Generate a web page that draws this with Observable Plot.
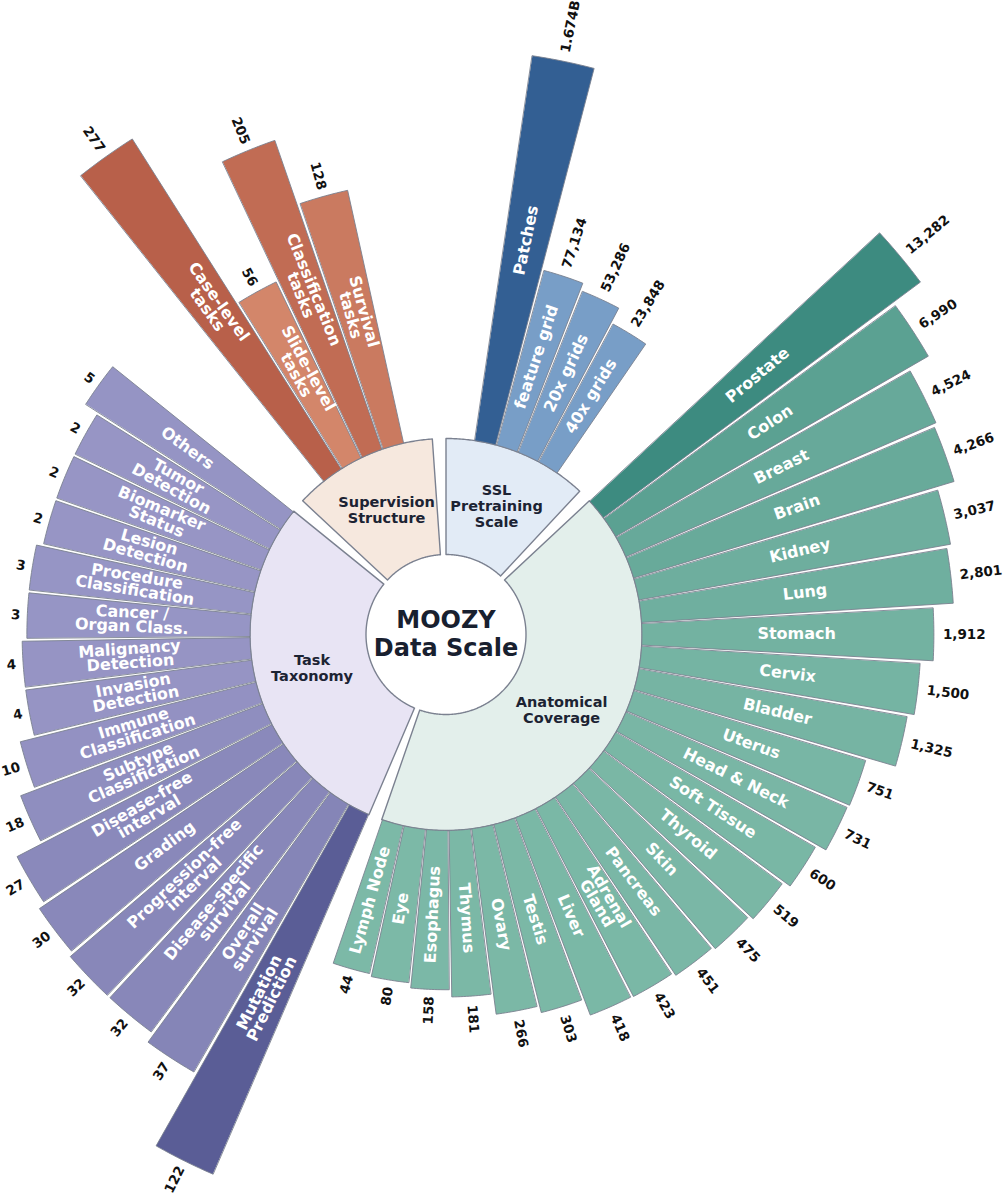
<!DOCTYPE html>
<html>
<head>
<meta charset="utf-8">
<script src="https://cdn.jsdelivr.net/npm/d3@7"></script>
<script src="https://cdn.jsdelivr.net/npm/@observablehq/plot@0.6"></script>
<style>
  html, body { margin: 0; padding: 0; background: #fff; overflow: hidden; }
  #chart svg { display: block; }
</style>
</head>
<body>
<div id="chart"></div>
<script>
// ---------------- DATA ----------------
const groupNames = ["SSL\nPretraining\nScale", "Anatomical\nCoverage", "Task\nTaxonomy", "Supervision\nStructure"];

const sslLabels = ["Patches", "feature grid", "20x grids", "40x grids"];
const sslValues = [1674000000, 77134, 53286, 23848];

const anatLabels = ["Prostate", "Colon", "Breast", "Brain", "Kidney", "Lung", "Stomach", "Cervix",
  "Bladder", "Uterus", "Head & Neck", "Soft Tissue", "Thyroid", "Skin", "Pancreas", "Adrenal\nGland",
  "Liver", "Testis", "Ovary", "Thymus", "Esophagus", "Eye", "Lymph Node"];
const anatValues = [13282, 6990, 4524, 4266, 3037, 2801, 1912, 1500, 1325, 751, 731, 600, 519, 475,
  451, 423, 418, 303, 266, 181, 158, 80, 44];

const taskLabels = ["Mutation\nPrediction", "Overall\nsurvival", "Disease-specific\nsurvival",
  "Progression-free\ninterval", "Grading", "Disease-free\ninterval", "Subtype\nClassification",
  "Immune\nClassification", "Invasion\nDetection", "Malignancy\nDetection", "Cancer /\nOrgan Class.",
  "Procedure\nClassification", "Lesion\nDetection", "Biomarker\nStatus", "Tumor\nDetection", "Others"];
const taskValues = [122, 37, 32, 32, 30, 27, 18, 10, 4, 4, 3, 3, 2, 2, 2, 5];

const supLabels = ["Case-level\ntasks", "Slide-level\ntasks", "Classification\ntasks", "Survival\ntasks"];
const supValues = [277, 56, 205, 128];

const titleLines = ["MOOZY", "Data Scale"];

// ---------------- SCALES / STYLE ----------------
const CX = 445.5, CY = 634, W = 1004, H = 1200;
const R_HOLE = 80, R_RING = 196;

const sslR = d3.scaleLog().domain([1e4, 1e9]).range([334.4, 574.4]);
const anatMain = d3.scaleLog().domain([100, 10000]).range([330.9, 575.9]);
const anatFloor = d3.scaleLog().domain([10, 100]).range([341.1, 351.1]);
const taskMain = d3.scaleLog().domain([10, 100]).range([414.0, 574.0]);
const taskFloor = d3.scaleLog().domain([1, 10]).range([401.0, 439.0]);
const supR = d3.scaleLinear().domain([0, 300]).range([341.9, 606.8]);

const groups = [
  {label: groupNames[0], names: sslLabels, values: sslValues, ring: "#e2ebf6", light: "#789ec7", dark: "#335f93",
   radius: v => sslR(v)},
  {label: groupNames[1], names: anatLabels, values: anatValues, ring: "#e3efeb", light: "#7cb9a7", dark: "#3d8b80",
   radius: v => Math.max(anatMain(v), anatFloor(v))},
  {label: groupNames[2], names: taskLabels, values: taskValues, ring: "#e8e4f4", light: "#9896c6", dark: "#5a5d96",
   radius: v => Math.max(taskMain(v), taskFloor(v))},
  {label: groupNames[3], names: supLabels, values: supValues, ring: "#f6e8de", light: "#da9072", dark: "#b8604a",
   radius: v => supR(v)}
];

const GAP = 4, MIN_SLOTS = 6.5, PAD = 0.22;
const slotCounts = groups.map(g => Math.max(g.values.length, MIN_SLOTS));
const SLOT = (360 - GAP * groups.length) / d3.sum(slotCounts);

const fmt = v => v >= 1e9 ? (v / 1e9).toFixed(3) + "B" : d3.format(",")(v);
const rad = a => a * Math.PI / 180;
const px = (a, r) => r * Math.sin(rad(a));
const py = (a, r) => r * Math.cos(rad(a));
const rot = a => (a < 180 ? a - 90 : a - 270);

function wedge(id, a0, a1, r0, r1, color) {
  const pts = [];
  const n = Math.max(2, Math.ceil((a1 - a0) / 0.5));
  for (let i = 0; i <= n; i++) { const a = a0 + (a1 - a0) * i / n; pts.push({id, color, x: px(a, r1), y: py(a, r1)}); }
  for (let i = n; i >= 0; i--) { const a = a0 + (a1 - a0) * i / n; pts.push({id, color, x: px(a, r0), y: py(a, r0)}); }
  return pts;
}

const ringPts = [], barPts = [], ringText = [], barText = [], valueText = [];
let start = 0;
groups.forEach((g, gi) => {
  const span = slotCounts[gi] * SLOT;
  const a0 = start, a1 = start + span;
  ringPts.push(...wedge("ring" + gi, a0, a1, R_HOLE, R_RING, g.ring));
  const mid = (a0 + a1) / 2;
  ringText.push({x: px(mid, 138), y: py(mid, 138), text: g.label});
  const vmax = d3.max(g.values);
  const offset = (span - g.values.length * SLOT) / 2;
  g.values.forEach((v, i) => {
    const b0 = a0 + offset + i * SLOT, b1 = b0 + SLOT, bm = (b0 + b1) / 2;
    const rEnd = g.radius(v);
    const color = d3.interpolateRgb(g.light, g.dark)(v / vmax);
    barPts.push(...wedge(`bar${gi}_${i}`, b0 + PAD, b1 - PAD, R_RING, rEnd, color));
    const rl = R_RING + 0.53 * (rEnd - R_RING);
    barText.push({x: px(bm, rl), y: py(bm, rl), rotate: rot(bm), text: g.names[i]});
    const rv = rEnd + (bm < 180 ? 9 : 7);
    valueText.push({x: px(bm, rv), y: py(bm, rv), rotate: rot(bm), text: fmt(v), right: bm < 180});
  });
  start = a1 + GAP;
});

const titleData = titleLines.map((t, i) => ({x: 0, y: 14 - i * 28, text: t}));

const FONT = "DejaVu Sans";
const chart = Plot.plot({
  width: W, height: H,
  marginTop: 0, marginBottom: 0, marginLeft: 0, marginRight: 0,
  x: {domain: [-CX, W - CX], axis: null},
  y: {domain: [CY - H, CY], axis: null},
  color: {type: "identity"},
  style: {fontFamily: FONT, background: "#fff"},
  marks: [
    Plot.line(ringPts, {x: "x", y: "y", z: "id", fill: "color", stroke: "#7b8190", strokeWidth: 1.4, curve: "linear-closed"}),
    Plot.line(barPts, {x: "x", y: "y", z: "id", fill: "color", stroke: "#7b8190", strokeWidth: 0.9, curve: "linear-closed"}),
    Plot.text(ringText, {x: "x", y: "y", text: "text", fill: "#1c2333", fontSize: 14.5, fontWeight: "bold",
      fontFamily: FONT, lineHeight: 1.1, textAnchor: "middle"}),
    Plot.text(barText, {x: "x", y: "y", text: "text", rotate: "rotate", fill: "#ffffff", fontSize: 16,
      fontWeight: "bold", fontFamily: FONT, lineHeight: 0.88, textAnchor: "middle"}),
    Plot.text(valueText.filter(d => d.right), {x: "x", y: "y", text: "text", rotate: "rotate", fill: "#111111",
      fontSize: 13.5, fontWeight: "bold", fontFamily: FONT, textAnchor: "start"}),
    Plot.text(valueText.filter(d => !d.right), {x: "x", y: "y", text: "text", rotate: "rotate", fill: "#111111",
      fontSize: 13.5, fontWeight: "bold", fontFamily: FONT, textAnchor: "end"}),
    Plot.text(titleData, {x: "x", y: "y", text: "text", fill: "#18202f", fontSize: 24,
      fontWeight: "bold", fontFamily: FONT, textAnchor: "middle"})
  ]
});
document.getElementById("chart").appendChild(chart);
</script>
</body>
</html>
